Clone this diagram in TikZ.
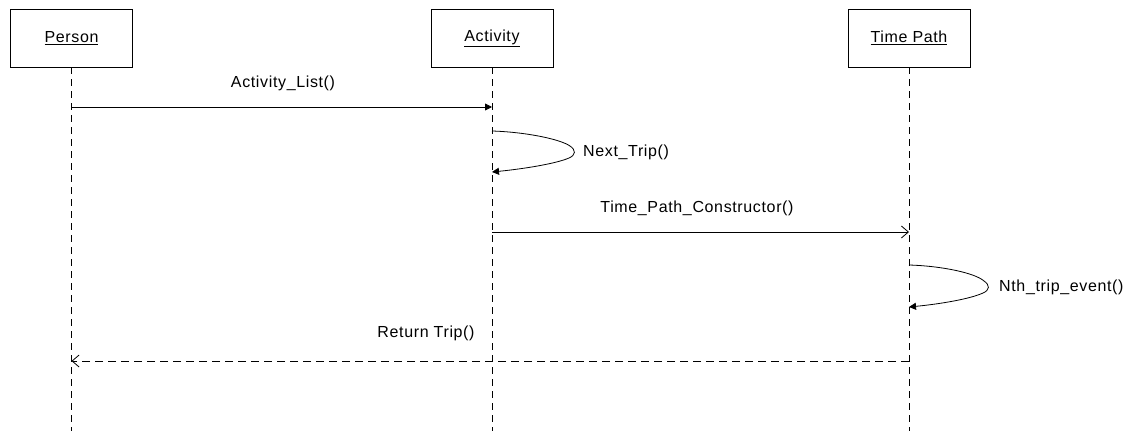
\documentclass[tikz,border=0pt]{standalone}
\usepackage{fontspec}
\newfontfamily\umlfont{Liberation Sans}[LetterSpace=4]
\usetikzlibrary{arrows.meta}
\begin{document}
\begin{tikzpicture}[x=1pt,y=-1pt,
  obj/.style={draw,line width=0.9pt,minimum width=122pt,minimum height=58pt,inner sep=0pt,font=\umlfont\fontsize{16}{18}\selectfont},
  life/.style={line width=0.9pt,dash pattern=on 7pt off 5pt},
  lbl/.style={font=\umlfont\fontsize{16}{18}\selectfont,inner sep=0pt},
  sync/.style={line width=0.8pt,-{Triangle[length=7pt,width=7pt]}},
  async/.style={line width=0.8pt,-{Straight Barb[length=7pt,width=12pt,line width=0.8pt]}},
  ret/.style={line width=0.9pt,dash pattern=on 8pt off 5pt,-{Straight Barb[length=7pt,width=12pt,line width=0.8pt]}}]
\useasboundingbox (0,0) rectangle (1136,431);
% objects
\node[obj] (person) at (71.5,38) {\underline{Person}};
\node[obj] (activity) at (492,38) {\underline{Activity}};
\node[obj] (timepath) at (909,38) {\underline{Time Path}};
% lifeline ends
\coordinate (pend) at (71.5,431);
\coordinate (aend) at (492,431);
\coordinate (tend) at (909,431);
\draw[life] (person.south) -- (pend);
\draw[life] (activity.south) -- (aend);
\draw[life] (timepath.south) -- (tend);
% message points
\coordinate (p1) at (71.5,107);
\coordinate (a1) at (492,107);
\coordinate (a2) at (492,131);
\coordinate (a3) at (492,172);
\coordinate (a4) at (492,232);
\coordinate (t4) at (909,232);
\coordinate (t5) at (909,265);
\coordinate (t6) at (909,307);
\coordinate (t7) at (909,361);
\coordinate (p7) at (71.5,361);
% messages
\draw[sync] (p1) -- (a1);
\node[lbl] (m1) at (283,83) {Activity\_List()};
\draw[sync] (a2) .. controls (525,132) and (560,139) .. (570,146) .. controls (576,150) and (576,155) .. (569,158) .. controls (555,164) and (522,169) .. (a3);
\node[lbl,anchor=west] (m2) at (583,152) {Next\_Trip()};
\draw[async] (a4) -- (t4);
\node[lbl] (m3) at (697,208) {Time\_Path\_Constructor()};
\draw[sync] (t5) .. controls (942,266) and (975,273) .. (984,281) .. controls (990,285) and (990,290) .. (983,293) .. controls (970,299) and (940,304) .. (t6);
\node[lbl,anchor=west] (m4) at (999,287) {Nth\_trip\_event()};
\draw[ret] (t7) -- (p7);
\node[lbl] (m5) at (426,333) {Return Trip()};
\end{tikzpicture}
\end{document}
